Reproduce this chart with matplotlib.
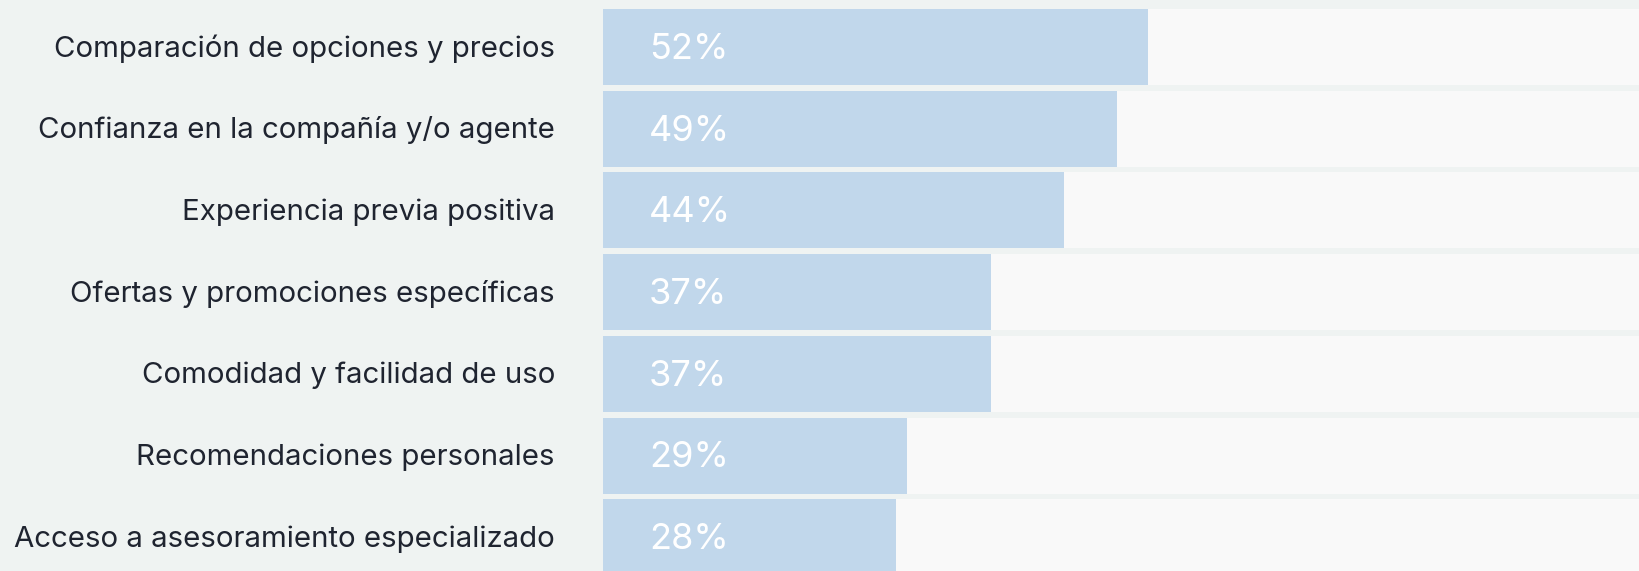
import matplotlib
matplotlib.use("Agg")
import matplotlib.pyplot as plt

# data
categories = [
    "Comparación de opciones y precios",
    "Confianza en la compañía y/o agente",
    "Experiencia previa positiva",
    "Ofertas y promociones específicas",
    "Comodidad y facilidad de uso",
    "Recomendaciones personales",
    "Acceso a asesoramiento especializado",
]
values = [52, 49, 44, 37, 37, 29, 28]
labels = ["52%", "49%", "44%", "37%", "37%", "29%", "28%"]

bg = "#eff3f2"
track = "#f9f9f9"
bar_col = "#c1d7eb"
text_col = "#1f2430"

plt.rcParams["font.family"] = ["Inter", "DejaVu Sans"]

W, H = 1639, 571
fig = plt.figure(figsize=(W / 100, H / 100), dpi=100, facecolor=bg)
left_px = 603
ax = fig.add_axes([left_px / W, 0, 1 - left_px / W, 1])
ax.set_facecolor(bg)

px_per_pct = 10.48
pitch = 81.7
y = list(range(len(categories)))
h = 76 / pitch

ax.barh(y, [100] * len(y), height=h, color=track, linewidth=0)
ax.barh(y, values, height=h, color=bar_col, linewidth=0)

for yi, lab in zip(y, labels):
    ax.text(46 / px_per_pct, yi + 0.03, lab, color="white", fontsize=26,
            va="center", ha="left")

for yi, cat in zip(y, categories):
    ax.text(-48 / px_per_pct, yi + 0.02, cat, color=text_col, fontsize=21.2,
            va="center", ha="right", clip_on=False)

ax.set_xlim(0, (W - left_px) / px_per_pct)
top = -47 / pitch
ax.set_ylim(top + H / pitch, top)
ax.axis("off")

fig.savefig("out.png", dpi=100, facecolor=bg)
